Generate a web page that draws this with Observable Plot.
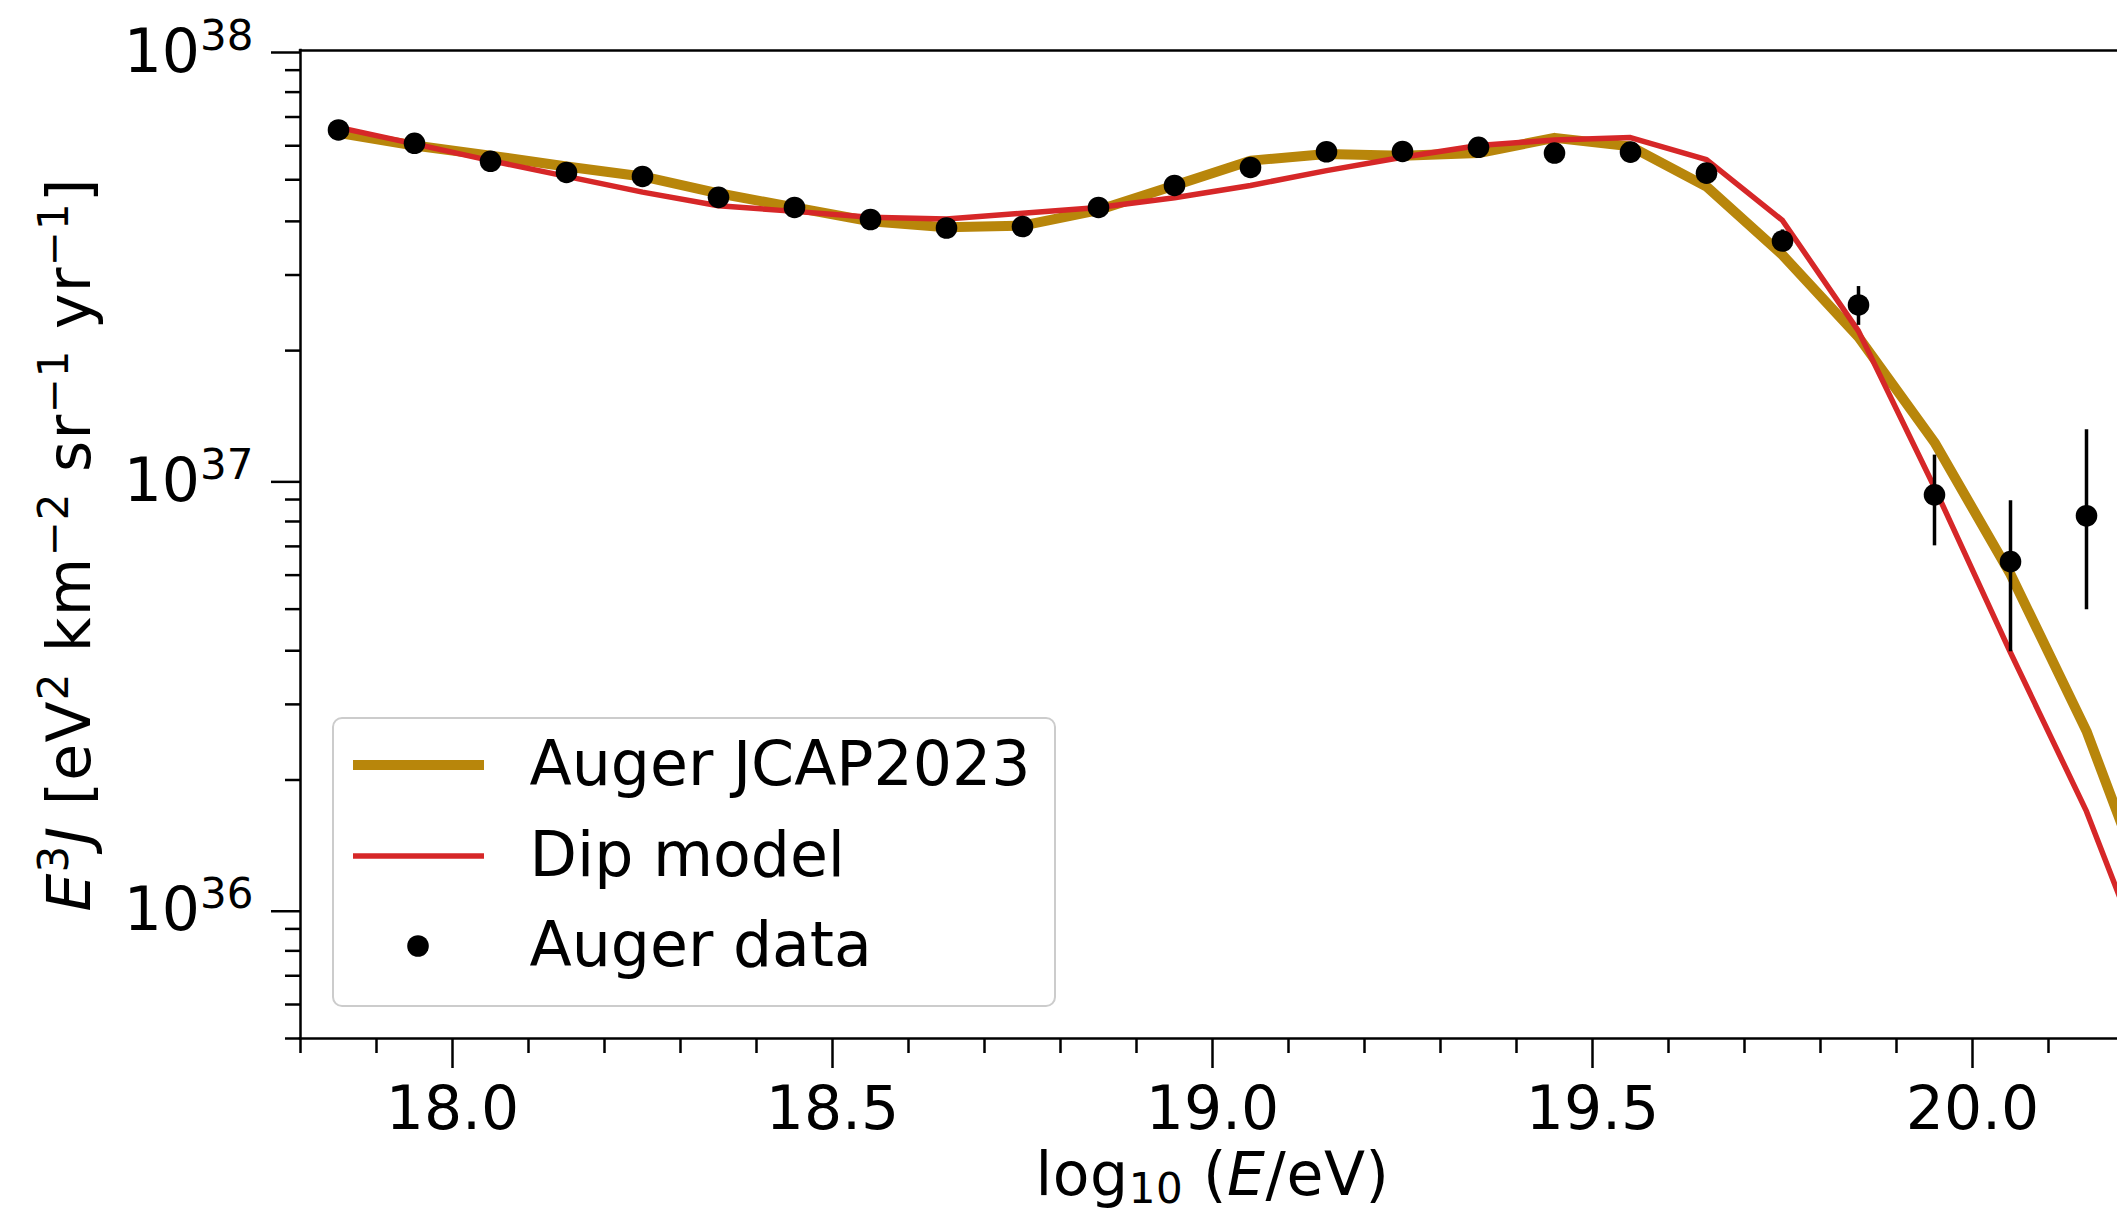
<!DOCTYPE html>
<html>
<head>
<meta charset="utf-8">
<script src="https://cdn.jsdelivr.net/npm/d3@7"></script>
<script src="https://cdn.jsdelivr.net/npm/@observablehq/plot@0.6"></script>
<style>
  html, body { margin: 0; padding: 0; background: #ffffff; overflow: hidden; }
  #wrap { position: relative; width: 2117px; height: 1214px; overflow: hidden; font-family: "DejaVu Sans"; background: #ffffff; }
  #wrap > svg { position: absolute; left: 0; top: 0; }
  #legend { position: absolute; left: 332px; top: 717px; width: 724px; height: 290px; box-sizing: border-box;
            border: 2.5px solid #cccccc; border-radius: 10px; background: rgba(255,255,255,0.8); padding-top: 1px; }
  .row { display: flex; align-items: center; height: 90.5px; }
  .row svg { margin-left: 18.5px; flex: none; display: block; }
  .row span { margin-left: 46px; font-size: 61.7px; line-height: 1; white-space: nowrap; color: #000; }
</style>
</head>
<body>
<div id="wrap"></div>
<script>
// ---------- data ----------
const logE = [17.85, 17.95, 18.05, 18.15, 18.25, 18.35, 18.45, 18.55, 18.65, 18.75, 18.85, 18.95,
              19.05, 19.15, 19.25, 19.35, 19.45, 19.55, 19.65, 19.75, 19.85, 19.95, 20.05, 20.15];
const augerFlux = [6.53e37, 6.08e37, 5.52e37, 5.20e37, 5.09e37, 4.55e37, 4.31e37, 4.04e37, 3.86e37, 3.89e37, 4.31e37, 4.85e37,
                   5.34e37, 5.81e37, 5.82e37, 5.95e37, 5.77e37, 5.80e37, 5.18e37, 3.60e37, 2.555e37, 9.23e36, 6.45e36, 8.25e36];
const errLow  = [null, null, null, null, null, null, null, null, null, null, null, null,
                 null, null, null, null, null, null, null, 3.42e37, 2.29e37, 7.02e36, 3.98e36, 4.98e36];
const errHigh = [null, null, null, null, null, null, null, null, null, null, null, null,
                 null, null, null, null, null, null, null, 3.82e37, 2.82e37, 1.142e37, 8.94e36, 1.309e37];

const modelLogE = [17.85, 17.95, 18.05, 18.15, 18.25, 18.35, 18.45, 18.55, 18.65, 18.75, 18.85, 18.95,
                   19.05, 19.15, 19.25, 19.35, 19.45, 19.55, 19.65, 19.75, 19.85, 19.95, 20.05, 20.15, 20.25];
const jcapFlux = [6.43e37, 6.01e37, 5.69e37, 5.37e37, 5.09e37, 4.65e37, 4.31e37, 4.00e37, 3.875e37, 3.91e37, 4.25e37, 4.85e37,
                  5.54e37, 5.74e37, 5.69e37, 5.77e37, 6.26e37, 5.98e37, 4.82e37, 3.34e37, 2.15e37, 1.223e37, 6.03e36, 2.60e36, 8.8e35];
const dipFlux  = [6.62e37, 6.06e37, 5.54e37, 5.09e37, 4.68e37, 4.35e37, 4.22e37, 4.09e37, 4.05e37, 4.18e37, 4.31e37, 4.54e37,
                  4.85e37, 5.25e37, 5.64e37, 6.01e37, 6.19e37, 6.27e37, 5.57e37, 4.02e37, 2.22e37, 9.6e36, 3.96e36, 1.69e36, 5.9e35];

const majorX = [18.0, 18.5, 19.0, 19.5, 20.0];
const minorX = [17.8, 17.9, 18.1, 18.2, 18.3, 18.4, 18.6, 18.7, 18.8, 18.9, 19.1, 19.2, 19.3, 19.4, 19.6, 19.7, 19.8, 19.9, 20.1];
const majorY = [1e36, 1e37, 1e38];
const minorY = [5e35, 6e35, 7e35, 8e35, 9e35,
                2e36, 3e36, 4e36, 5e36, 6e36, 7e36, 8e36, 9e36,
                2e37, 3e37, 4e37, 5e37, 6e37, 7e37, 8e37, 9e37];

const seriesNames = ["Auger JCAP2023", "Dip model", "Auger data"];
const GOLD = "#b8860b", RED = "#d62728", BLACK = "#000000";

// rich-text label markup: pieces separated by "|", "^:" superscript, "_:" subscript, "i:" italic
const xLabel = "log|_:10| (|i:E|/eV)";
const yLabel = "i:E|^:3|i:J| [eV|^:2| km|^:\u22122| sr|^:\u22121| yr|^:\u22121|]";

// ---------- build table rows ----------
const points = logE.map((x, i) => ({x, y: augerFlux[i], lo: errLow[i], hi: errHigh[i]}));
const errs = points.filter(d => d.lo != null);
const jcap = modelLogE.map((x, i) => ({x, y: jcapFlux[i]}));
const dip = modelLogE.map((x, i) => ({x, y: dipFlux[i]}));

const chart = Plot.plot({
  width: 2124,
  height: 1214,
  marginLeft: 300,
  marginRight: 0,
  marginTop: 50,
  marginBottom: 176,
  x: {domain: [17.8, 20.2], label: null},
  y: {type: "log", domain: [5e35, 1e38], label: null},
  style: {fontFamily: "'DejaVu Sans'", fontSize: "60px", background: "white", color: "black", maxWidth: "none", overflow: "hidden"},
  marks: [
    Plot.line(jcap, {x: "x", y: "y", stroke: GOLD, strokeWidth: 10, strokeLinejoin: "round", strokeLinecap: "square"}),
    Plot.line(dip, {x: "x", y: "y", stroke: RED, strokeWidth: 5.5, strokeLinejoin: "round", strokeLinecap: "square"}),
    Plot.ruleX(errs, {x: "x", y1: "lo", y2: "hi", stroke: BLACK, strokeWidth: 3.5}),
    Plot.dot(points, {x: "x", y: "y", r: 10.8, fill: BLACK}),
    Plot.ruleX([17.8], {stroke: BLACK, strokeWidth: 2.5, strokeLinecap: "square"}),
    Plot.ruleY([5e35, 1e38], {stroke: BLACK, strokeWidth: 2.5, strokeLinecap: "square"}),
    Plot.axisX(minorX, {anchor: "bottom", tickSize: 15, strokeWidth: 2.5, tickFormat: () => "", label: null}),
    Plot.axisX(majorX, {anchor: "bottom", tickSize: 30, tickPadding: 18, strokeWidth: 2.5, tickFormat: d => d.toFixed(1), label: null}),
    Plot.axisY(minorY, {anchor: "left", tickSize: 15, strokeWidth: 2.5, tickFormat: () => "", label: null}),
    Plot.axisY(majorY, {anchor: "left", tickSize: 29, tickPadding: 18, strokeWidth: 2.5, dy: 2,
                        tickFormat: d => "10|^:" + Math.round(Math.log10(d)), label: null}),
    Plot.text([xLabel], {frameAnchor: "bottom", dy: 156, text: d => d, fontSize: 60, lineAnchor: "bottom", textAnchor: "middle"}),
    Plot.text([yLabel], {frameAnchor: "left", dx: -211, rotate: -90, text: d => d, fontSize: 60, lineAnchor: "bottom", textAnchor: "middle"})
  ]
});

// convert the markup into tspans
function rich(el, str, subShift) {
  while (el.firstChild) el.removeChild(el.firstChild);
  let shift = 0;
  for (const p of str.split("|")) {
    if (!p) continue;
    let kind = "", txt = p;
    const m = p.match(/^(\^|_|i):([\s\S]*)$/);
    if (m) { kind = m[1]; txt = m[2]; }
    const t = document.createElementNS("http://www.w3.org/2000/svg", "tspan");
    let target = 0;
    if (kind === "^") { target = -22; t.setAttribute("font-size", 42); }
    else if (kind === "_") { target = subShift; t.setAttribute("font-size", 42); }
    else if (kind === "i") { t.setAttribute("font-style", "italic"); }
    if (target !== shift) t.setAttribute("dy", target - shift);
    shift = target;
    t.textContent = txt;
    el.appendChild(t);
  }
}
chart.querySelectorAll("text").forEach(el => {
  const s = el.textContent;
  if (!s || !s.includes("|")) return;
  if (s === yLabel) el.setAttribute("letter-spacing", "1.2");
  if (s === xLabel) el.setAttribute("letter-spacing", "0.6");
  rich(el, s, 8);
});

const wrap = document.getElementById("wrap");
wrap.appendChild(chart);

// ---------- legend ----------
const legend = document.createElement("div");
legend.id = "legend";
const swatches = [
  `<svg width="131" height="24"><line x1="0" x2="131" y1="12" y2="12" stroke="${GOLD}" stroke-width="10"/></svg>`,
  `<svg width="131" height="24"><line x1="0" x2="131" y1="12" y2="12" stroke="${RED}" stroke-width="5.5"/></svg>`,
  `<svg width="131" height="24"><circle cx="65" cy="12" r="10.8" fill="${BLACK}"/></svg>`
];
seriesNames.forEach((name, i) => {
  const row = document.createElement("div");
  row.className = "row";
  row.innerHTML = swatches[i] + `<span>${name}</span>`;
  legend.appendChild(row);
});
wrap.appendChild(legend);
</script>
</body>
</html>
